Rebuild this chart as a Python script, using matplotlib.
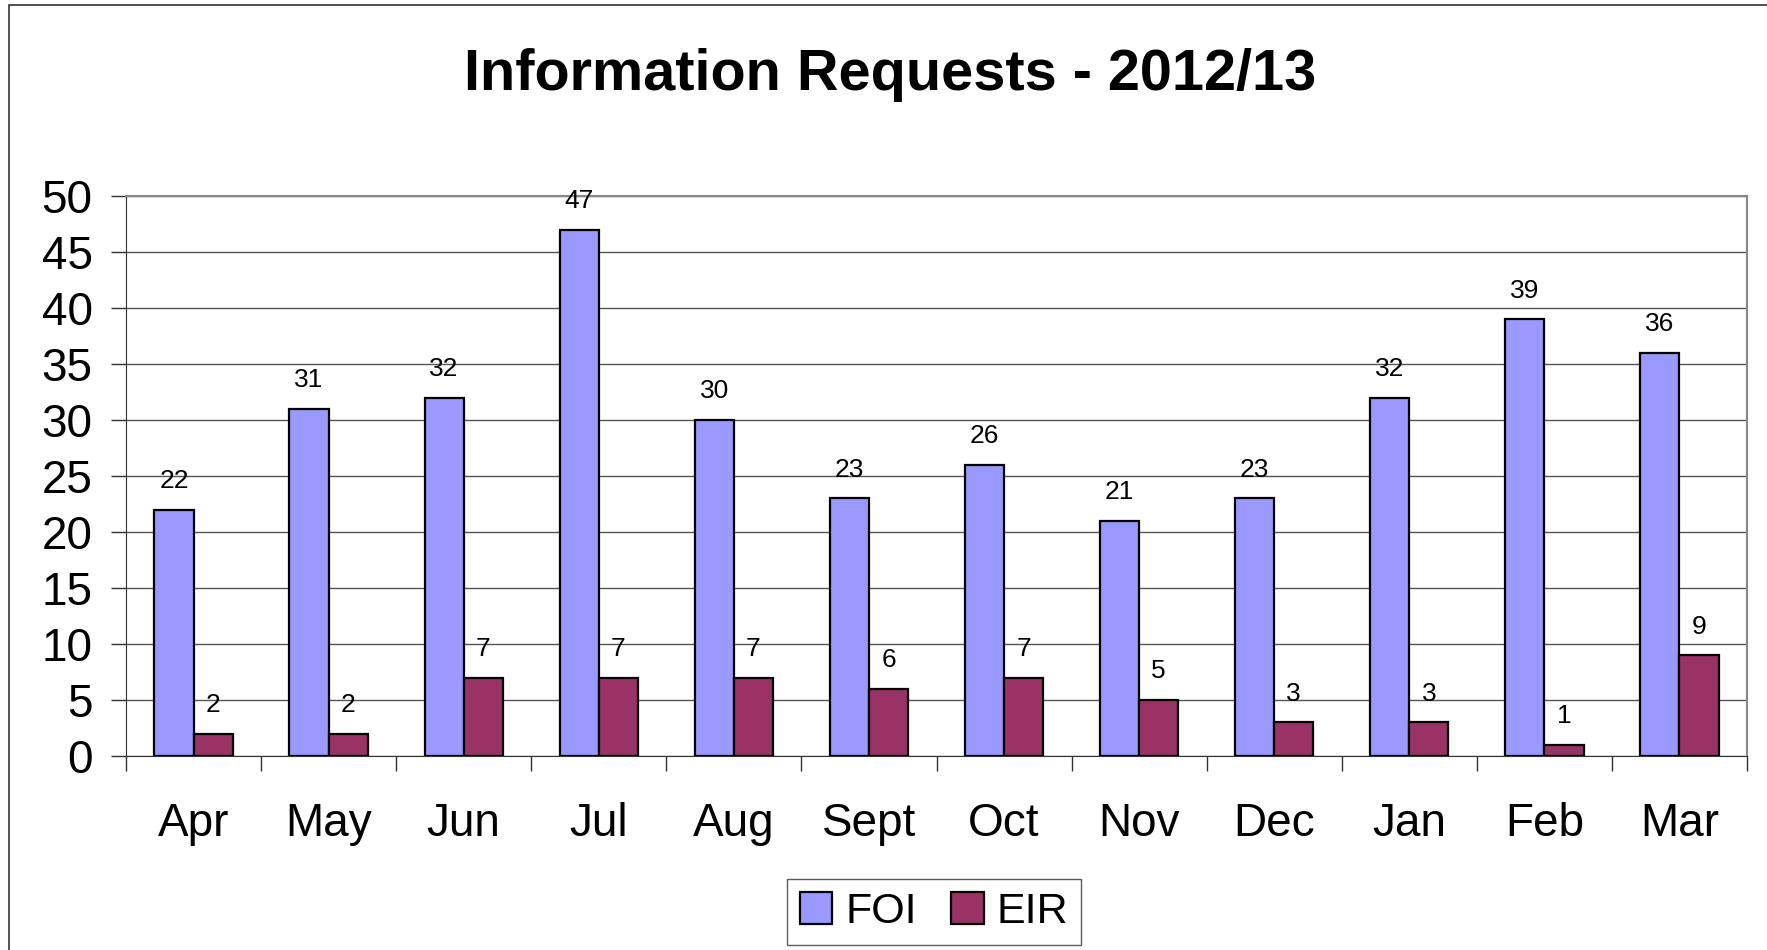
import matplotlib.pyplot as plt
from matplotlib.patches import Rectangle
import numpy as np

plt.rcParams['font.family'] = ['Liberation Sans', 'DejaVu Sans']

months = ['Apr', 'May', 'Jun', 'Jul', 'Aug', 'Sept', 'Oct', 'Nov', 'Dec', 'Jan', 'Feb', 'Mar']
foi = [22, 31, 32, 47, 30, 23, 26, 21, 23, 32, 39, 36]
eir = [2, 2, 7, 7, 7, 6, 7, 5, 3, 3, 1, 9]

fig = plt.figure(figsize=(17.67, 9.5), dpi=100)
ax = fig.add_axes([126/1767, 1 - 756/950, (1747 - 126)/1767, (756 - 196)/950])

x = np.arange(len(months))
w = 0.29
b1 = ax.bar(x - w/2, foi, w, color='#9999FF', edgecolor='black', linewidth=1.6, label='FOI', zorder=3)
b2 = ax.bar(x + w/2, eir, w, color='#993366', edgecolor='black', linewidth=1.6, label='EIR', zorder=3)

for bars, vals in ((b1, foi), (b2, eir)):
    for r, v in zip(bars, vals):
        ax.annotate(str(v), (r.get_x() + r.get_width()/2, v), xytext=(0, 12),
                    textcoords='offset points', ha='center', va='bottom', fontsize=19)

ax.set_xlim(-0.5, len(months) - 0.5)
ax.set_ylim(0, 50)
ax.set_yticks(range(0, 51, 5))
ax.set_xticks(x)
ax.set_xticklabels(months)
ax.set_xticks(np.arange(-0.5, len(months)), minor=True)
ax.tick_params(axis='x', which='major', length=0, pad=33, labelsize=33)
ax.tick_params(axis='x', which='minor', length=11, width=1, color='#333333', direction='out')
ax.tick_params(axis='y', length=11, width=1, color='#333333', pad=13, labelsize=33)

ax.grid(axis='y', color='#555555', linewidth=1, zorder=0)
ax.set_axisbelow(True)
for s in ('top', 'right'):
    ax.spines[s].set_color('#888888')
    ax.spines[s].set_linewidth(1.5)
ax.spines['left'].set_color('#333333')
ax.spines['bottom'].set_color('#333333')

fig.text(890/1767, 1 - 75/950, 'Information Requests - 2012/13', ha='center', va='center',
         fontsize=41.5, fontweight='bold')

leg = fig.legend(handles=[b1, b2], loc='center', bbox_to_anchor=(934/1767, 1 - 912/950),
                 ncol=2, fontsize=31, frameon=True, fancybox=False, edgecolor='#333333',
                 handlelength=0.75, handleheight=0.75, handletextpad=0.3, columnspacing=0.8,
                 borderpad=0.3)
leg.get_frame().set_linewidth(1)

fig.patches.append(Rectangle((9/1767, -0.02), 1.1, 1.02 - 5/950, transform=fig.transFigure,
                             fill=False, edgecolor='#333333', linewidth=1.2))

fig.savefig('out.png', dpi=100)
